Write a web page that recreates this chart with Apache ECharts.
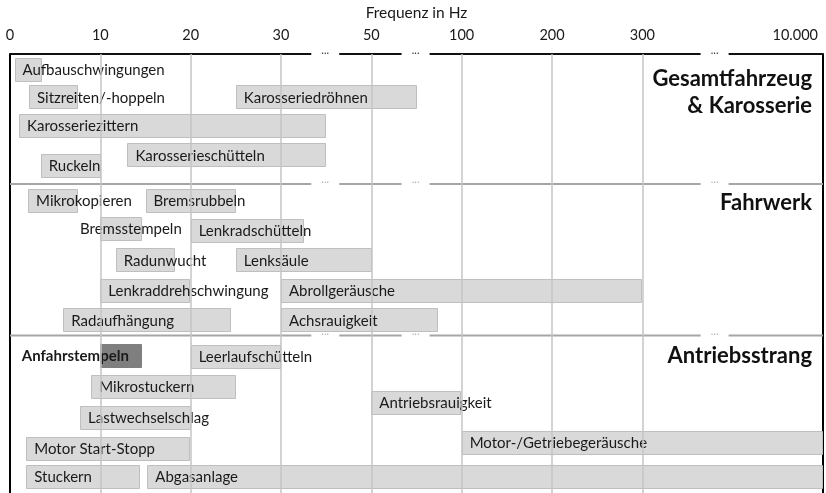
<!DOCTYPE html>
<html><head><meta charset="utf-8">
<script src="https://cdn.jsdelivr.net/npm/echarts@6/dist/echarts.min.js"></script>
<style>html,body{margin:0;padding:0;background:#fff}#c{width:826px;height:493px}</style>
</head><body><div id="c"></div>
<script>
// ---- axis definition (piecewise frequency axis) ----
const tickLabels = ['0', '10', '20', '30', '50', '100', '200', '300', '', '10.000'];
const stopFreqs = [0, 10, 20, 30, 50, 100, 200, 300, 10000];
const stopPos   = [0, 1, 2, 3, 4, 5, 6, 7, 9];
const gridPositions = [1, 2, 3, 4, 5, 6, 7];
const breakCenters = [3.49, 4.49, 7.8];

// ---- data ----
const names = ['Aufbauschwingungen', 'Sitzreiten/-hoppeln', 'Karosseriedröhnen', 'Karosseriezittern',
  'Karosserieschütteln', 'Ruckeln',
  'Mikrokopieren', 'Bremsrubbeln', 'Bremsstempeln', 'Lenkradschütteln', 'Radunwucht', 'Lenksäule',
  'Lenkraddrehschwingung', 'Abrollgeräusche', 'Radaufhängung', 'Achsrauigkeit',
  'Anfahrstempeln', 'Leerlaufschütteln', 'Mikrostuckern', 'Antriebsrauigkeit', 'Lastwechselschlag',
  'Motor-/Getriebegeräusche', 'Motor Start-Stopp', 'Stuckern', 'Abgasanlage'];
const startHz = [0.5, 2.1, 25, 1, 13, 3.4,
  2, 15, 10, 20, 11.7, 25, 10, 30, 5.9, 30,
  10, 20, 9, 50, 7.75, 100, 1.8, 1.8, 15.2];
const endHz = [3.5, 7.5, 75, 40, 40, 10,
  7.5, 25, 14.7, 35, 18.2, 50, 20, 300, 24.5, 87,
  14.7, 30, 25, 100, 20, 10000, 20, 14.4, 10000];
const rows = [0.52, 1.46, 1.46, 2.44, 3.44, 3.81,
  5.01, 5.01, 5.94, 6.03, 7.03, 7.03, 8.08, 8.08, 9.08, 9.08,
  10.28, 10.33, 11.34, 11.89, 12.41, 13.26, 13.46, 14.44, 14.44];
const labelAnchorHz = {8: 7.75, 16: 1.3};
const highlighted = [16];

const sectionTitles = ['Gesamtfahrzeug', '& Karosserie', 'Fahrwerk', 'Antriebsstrang'];
const titleRows = [0.85, 1.76, 5.08, 10.33];
const separatorRows = [4.44, 9.62];

// ---- mapping ----
function toAxis(f) {
  for (let i = 0; i < stopFreqs.length - 1; i++) {
    if (f <= stopFreqs[i + 1]) {
      return stopPos[i] + (f - stopFreqs[i]) / (stopFreqs[i + 1] - stopFreqs[i]) * (stopPos[i + 1] - stopPos[i]);
    }
  }
  return stopPos[stopPos.length - 1];
}

const FONT = 'Lato, "Open Sans", sans-serif';
const barData = names.map((n, i) => [toAxis(startHz[i]), toAxis(endHz[i]), rows[i], highlighted.includes(i) ? 1 : 0]);
const labelData = names.map((n, i) => [labelAnchorHz[i] != null ? toAxis(labelAnchorHz[i]) : toAxis(startHz[i]), rows[i], labelAnchorHz[i] != null ? 1 : 0]);
const frameData = [[0, 0, 0]].concat(separatorRows.map(r => [0, r, 1]));
const titleData = titleRows.map(r => [9, r]);

const chart = echarts.init(document.getElementById('c'), null, {renderer: 'canvas'});
const HALF_GAP = 0.155;

chart.setOption({
  animation: false,
  grid: {left: 10, right: 3, top: 50, bottom: 0},
  xAxis: {
    type: 'value', position: 'top', min: 0, max: 9, interval: 1,
    name: 'Frequenz in Hz', nameLocation: 'middle', nameGap: 33, nameMoveOverlap: false,
    nameTextStyle: {fontFamily: FONT, fontSize: 15.5, color: '#1a1a1a'},
    axisLine: {show: false}, axisTick: {show: false}, splitLine: {show: false},
    axisLabel: {
      margin: 11, fontFamily: FONT, fontSize: 14.5, color: '#1a1a1a', alignMaxLabel: 'right',
      formatter: v => v === 9 ? '{r|' + tickLabels[9] + '}' : (tickLabels[v] || ''),
      rich: {r: {fontFamily: FONT, fontSize: 14.5, color: '#1a1a1a', padding: [0, 5, 0, 0]}}
    }
  },
  yAxis: [
    {type: 'value', inverse: true, min: 0, max: 15, position: 'left',
     axisLine: {show: true, lineStyle: {color: '#000', width: 2}}, axisTick: {show: false},
     axisLabel: {show: false}, splitLine: {show: false}},
    {type: 'value', inverse: true, min: 0, max: 15, position: 'right',
     axisLine: {show: true, lineStyle: {color: '#000', width: 2}}, axisTick: {show: false},
     axisLabel: {show: false}, splitLine: {show: false}}
  ],
  series: [
    {
      type: 'custom', name: 'frame', z: 1, silent: true,
      data: frameData,
      renderItem: function (params, api) {
        const y = api.value(1);
        const gray = api.value(2) === 1;
        const color = gray ? '#a6a6a6' : '#111';
        const children = [];
        const cuts = [0];
        breakCenters.forEach(b => { cuts.push(b - HALF_GAP); cuts.push(b + HALF_GAP); });
        cuts.push(9);
        for (let i = 0; i < cuts.length; i += 2) {
          const a = api.coord([cuts[i], y]), b = api.coord([cuts[i + 1], y]);
          children.push({type: 'line', shape: {x1: a[0], y1: a[1], x2: b[0], y2: b[1]},
            style: {stroke: color, lineWidth: 2}});
        }
        breakCenters.forEach(bc => {
          const p = api.coord([bc, y]);
          children.push({type: 'text', x: p[0], y: p[1] - 4,
            style: {text: '...', fontFamily: FONT, fontSize: 11, fill: gray ? '#b0b0b0' : '#333',
              align: 'center', verticalAlign: 'middle'}});
        });
        return {type: 'group', children: children};
      },
      markLine: {
        silent: true, symbol: 'none', label: {show: false},
        lineStyle: {color: '#c4c4c4', width: 1.5, type: 'solid'},
        data: gridPositions.map(v => ({xAxis: v}))
      }
    },
    {
      type: 'custom', name: 'bars', z: 2, silent: true,
      data: barData,
      renderItem: function (params, api) {
        const s = api.coord([api.value(0), api.value(2)]);
        const e = api.coord([api.value(1), api.value(2)]);
        const h = api.size([0, 0.77])[1];
        const dark = api.value(3) === 1;
        return {type: 'rect',
          shape: {x: Math.round(s[0]) + 0.5, y: Math.round(s[1] - h / 2) + 0.5, width: Math.round(e[0] - s[0]) - 1, height: Math.round(h)},
          style: {fill: dark ? '#7f7f7f' : '#d9d9d9', stroke: dark ? '#7f7f7f' : '#bfbfbf', lineWidth: 1}};
      }
    },
    {
      type: 'custom', name: 'labels', z: 3, silent: true,
      data: labelData,
      renderItem: function (params, api) {
        const i = params.dataIndex;
        const p = api.coord([api.value(0), api.value(1)]);
        const anchored = api.value(2) === 1;
        const bold = highlighted.includes(i);
        return {type: 'text', x: p[0] + (anchored ? 0 : 8), y: p[1] + 1,
          style: {text: names[i], fontFamily: FONT, fontSize: 15, fontWeight: bold ? 'bold' : 'normal',
            fill: '#1a1a1a', align: 'left', verticalAlign: 'middle'}};
      }
    },
    {
      type: 'custom', name: 'titles', z: 3, silent: true,
      data: titleData,
      renderItem: function (params, api) {
        const p = api.coord([api.value(0), api.value(1)]);
        return {type: 'text', x: p[0] - 11, y: p[1],
          style: {text: sectionTitles[params.dataIndex], fontFamily: FONT, fontSize: 22, fontWeight: 'bold',
            fill: '#111', align: 'right', verticalAlign: 'middle'}};
      }
    }
  ]
});
</script>
</body></html>
